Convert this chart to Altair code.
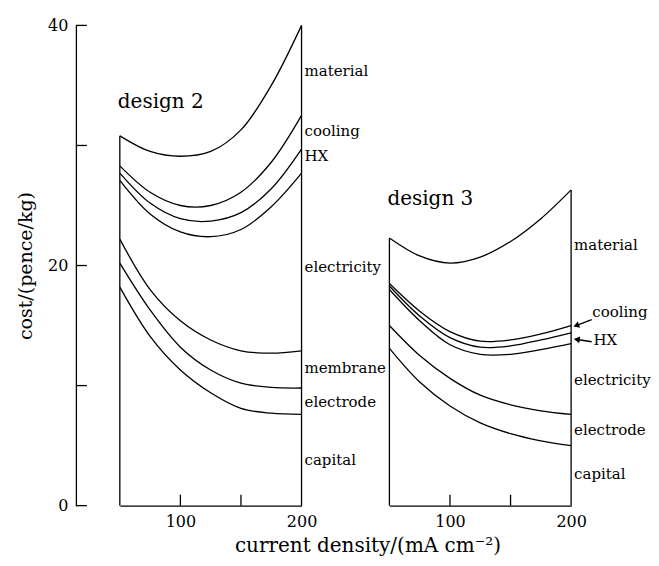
import altair as alt
import pandas as pd

# ---------------- data ----------------
x_vals = [50, 75, 100, 125, 150, 175, 200]

# design 2: upper boundary of each cumulative band (top to bottom)
d2_material = [30.8, 29.5, 29.1, 29.5, 31.3, 35.0, 40.0]
d2_cooling = [28.3, 26.1, 25.0, 25.0, 26.1, 28.6, 32.5]
d2_hx = [27.7, 25.2, 23.9, 23.7, 24.4, 26.4, 29.7]
d2_electricity = [27.1, 24.3, 22.8, 22.4, 23.0, 24.9, 27.7]
d2_membrane = [22.2, 18.0, 15.4, 13.8, 12.9, 12.7, 12.9]
d2_electrode = [20.2, 16.3, 13.2, 11.3, 10.2, 9.85, 9.8]
d2_capital = [18.2, 14.1, 11.3, 9.4, 8.1, 7.7, 7.6]

# design 3
d3_material = [22.3, 20.8, 20.2, 20.7, 22.0, 23.9, 26.3]
d3_cooling = [18.5, 16.2, 14.5, 13.7, 13.8, 14.3, 15.0]
d3_hx = [18.3, 15.8, 14.0, 13.2, 13.3, 13.8, 14.4]
d3_electricity = [18.0, 15.4, 13.4, 12.6, 12.6, 13.0, 13.5]
d3_electrode = [15.0, 12.5, 10.6, 9.2, 8.4, 7.9, 7.6]
d3_capital = [13.1, 10.3, 8.3, 6.9, 6.0, 5.4, 5.0]

# band labels on the right of each panel
d2_label_text = ["material", "cooling", "HX", "electricity", "membrane", "electrode", "capital"]
d2_label_y = [36.2, 31.2, 29.1, 19.9, 11.5, 8.6, 3.8]
d3_label_text = ["material", "electricity", "electrode", "capital"]
d3_label_y = [21.7, 10.5, 6.3, 2.6]
d3_arrow_text = ["cooling", "HX"]
d3_arrow_text_y = [16.1, 13.8]
d3_arrow_text_x = [217.5, 218.5]
d3_arrow_tail_x = [217.0, 217.0]
d3_arrow_tail_y = [15.5, 13.65]
d3_arrow_tip_x = [203.0, 203.5]
d3_arrow_tip_y = [14.95, 13.86]
d3_arrow_head_x = [205.0, 205.5]
d3_arrow_head_y = [15.03, 13.83]
d3_arrow_angle = [249, 278]

y_tick_values = [0, 10, 20, 30, 40]
y_label_values = [0, 20, 40]
x_tick_values = [100, 150]
x_label_values = [100, 200]

FONT = "DejaVu Serif"
W, H = 182, 481
INK = "black"
LABEL_SIZE = 15


def curves(names, series):
    rows = []
    for n, s in zip(names, series):
        for xv, yv in zip(x_vals, s):
            rows.append({"curve": n, "x": xv, "y": yv})
    return pd.DataFrame(rows)


xscale = alt.Scale(domain=[50, 200], nice=False, zero=False)
yscale = alt.Scale(domain=[0, 40], nice=False, zero=True)


def panel(df, top, label_text, label_y, title_text, title_y, first):
    if first:
        xax = alt.Axis(values=x_label_values, ticks=False, grid=False,
                       domainColor=INK, domainWidth=1.3,
                       labelFont=FONT, labelFontSize=16, labelColor=INK,
                       labelPadding=8, labelFlush=False,
                       title="current density/(mA cm⁻²)", titleFont=FONT,
                       titleFontSize=20, titleFontWeight="normal", titleColor=INK,
                       titleX=248, titleY=46, titleBaseline="alphabetic",
                       titleAlign="center")
        yax = alt.Axis(values=y_label_values, ticks=False, grid=False, offset=44,
                       domainColor=INK, domainWidth=1.3,
                       labelFont=FONT, labelFontSize=16, labelColor=INK,
                       labelPadding=8, labelFlush=False,
                       title="cost/(pence/kg)", titleFont=FONT, titleFontSize=19,
                       titleFontWeight="normal", titleColor=INK, titlePadding=12)
        enc_y = alt.Y("y:Q", scale=yscale, axis=yax)
    else:
        xax = alt.Axis(values=x_label_values, ticks=False, grid=False,
                       domainColor=INK, domainWidth=1.3,
                       labelFont=FONT, labelFontSize=16, labelColor=INK,
                       labelPadding=8, labelFlush=False, title=None)
        enc_y = alt.Y("y:Q", scale=yscale, axis=None)

    lines = alt.Chart(df).mark_line(color=INK, strokeWidth=1.3, interpolate="catmull-rom").encode(
        x=alt.X("x:Q", scale=xscale, axis=xax),
        y=enc_y,
        detail="curve:N",
    )

    edges = alt.Chart(pd.DataFrame({"x": [x_vals[0], x_vals[-1]],
                                    "y0": [0, 0],
                                    "y1": [top[0], top[-1]]})).mark_rule(
        color=INK, strokeWidth=1.3).encode(
        x=alt.X("x:Q", scale=xscale), y=alt.Y("y0:Q", scale=yscale), y2="y1:Q")

    xticks = alt.Chart(pd.DataFrame({"x": x_tick_values})).mark_rule(
        color=INK, strokeWidth=1.3).encode(
        x=alt.X("x:Q", scale=xscale), y=alt.value(H), y2=alt.value(H - 11))

    labels = alt.Chart(pd.DataFrame({"x": [x_vals[-1]] * len(label_text),
                                     "y": label_y, "t": label_text})).mark_text(
        align="left", baseline="middle", dx=3, font=FONT, fontSize=LABEL_SIZE, color=INK).encode(
        x=alt.X("x:Q", scale=xscale), y=alt.Y("y:Q", scale=yscale), text="t:N")

    title = alt.Chart(pd.DataFrame({"x": [x_vals[0]], "y": [title_y], "t": [title_text]})).mark_text(
        align="left", baseline="alphabetic", font=FONT, fontSize=20, color=INK, dx=-2).encode(
        x=alt.X("x:Q", scale=xscale), y=alt.Y("y:Q", scale=yscale), text="t:N")

    layers = [lines, edges, xticks, labels, title]

    if first:
        yticks = alt.Chart(pd.DataFrame({"y": y_tick_values})).mark_rule(
            color=INK, strokeWidth=1.3).encode(
            y=alt.Y("y:Q", scale=yscale), x=alt.value(-44), x2=alt.value(-33))
        layers.append(yticks)
    else:
        arrows = alt.Chart(pd.DataFrame({"x": d3_arrow_tail_x, "y": d3_arrow_tail_y,
                                         "x2": d3_arrow_tip_x, "y2": d3_arrow_tip_y})).mark_rule(
            color=INK, strokeWidth=1.3).encode(
            x=alt.X("x:Q", scale=xscale), y=alt.Y("y:Q", scale=yscale), x2="x2:Q", y2="y2:Q")
        heads = alt.Chart(pd.DataFrame({"x": d3_arrow_head_x, "y": d3_arrow_head_y,
                                        "a": d3_arrow_angle})).mark_point(
            shape="triangle", filled=True, color=INK, size=45, opacity=1).encode(
            x=alt.X("x:Q", scale=xscale), y=alt.Y("y:Q", scale=yscale),
            angle=alt.Angle("a:Q", scale=None))
        atext = alt.Chart(pd.DataFrame({"x": d3_arrow_text_x, "y": d3_arrow_text_y,
                                        "t": d3_arrow_text})).mark_text(
            align="left", baseline="middle", font=FONT, fontSize=LABEL_SIZE, color=INK).encode(
            x=alt.X("x:Q", scale=xscale), y=alt.Y("y:Q", scale=yscale), text="t:N")
        layers += [arrows, heads, atext]

    return alt.layer(*layers).properties(width=W, height=H)


df2 = curves(d2_label_text, [d2_material, d2_cooling, d2_hx, d2_electricity,
                             d2_membrane, d2_electrode, d2_capital])
df3 = curves(["material", "cooling", "HX", "electricity", "electrode", "capital"],
             [d3_material, d3_cooling, d3_hx, d3_electricity, d3_electrode, d3_capital])

p2 = panel(df2, d2_material, d2_label_text, d2_label_y, "design 2", 33.1, True)
p3 = panel(df3, d3_material, d3_label_text, d3_label_y, "design 3", 25.0, False)

chart = alt.hconcat(p2, p3, spacing=88, bounds="flush").properties(
    padding={"left": 8, "top": 9, "right": 0, "bottom": 0},
    background="white",
).configure_view(strokeWidth=0, stroke="transparent")

chart.save("out.html", embed_options={"renderer": "svg", "actions": False})
